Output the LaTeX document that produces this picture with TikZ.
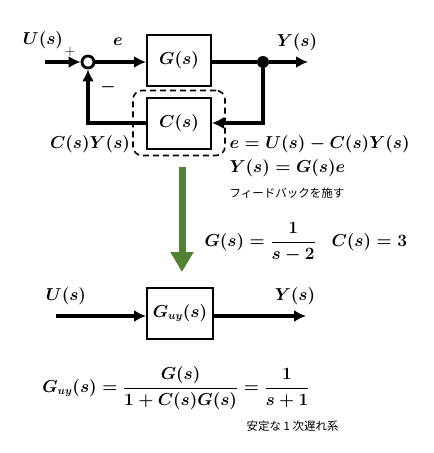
\documentclass[tikz,border=0pt]{standalone}
\usepackage{amsmath, amssymb}
\usepackage{bm}
\usepackage{fontspec}
\newfontfamily\jpfont{Noto Sans CJK JP}
\usetikzlibrary{arrows.meta, positioning, fit}
\definecolor{mygreen}{HTML}{548235}
\tikzset{
  >=latex,
  % Blocchi
  block/.style={draw, line width=2pt, minimum width=64, minimum height=51, inner sep=0},
  sum node/.style={circle, draw, line width=2.8pt, minimum size=12, inner sep=0},
  branch/.style={circle, fill, minimum size=12, inner sep=0},
  dash box/.style={draw, line width=1.6pt, rounded corners=9, dash pattern=on 6pt off 4pt},
  % Connessioni
  connect/.style={line width=3.5pt},
  connect arrow/.style={-{Latex[length=12,width=12]}, line width=3.5pt},
  % Testi
  jp/.style={font=\jpfont\fontsize{11.5}{13}\selectfont}
}

\begin{document}
\begin{tikzpicture}[x=1pt, y=-1pt, font=\fontsize{16}{19}\selectfont\boldmath]
\useasboundingbox (0,0) rectangle (434,453);

% Sistema in retroazione
\node[block] (G) at (179,60) {$G(s)$};
\node[block] (C) at (179,123) {$C(s)$};
\node[sum node] (sum) at (88,62) {};
\node[branch] (br) at (263,62) {};
\coordinate (in) at (45,62);
\coordinate (out) at (308,62);
\node[dash box, fit=(C), inner xsep=13, inner ysep=6] (Cbox) {};

\draw[connect arrow] (in) -- (sum);
\draw[connect arrow] (sum) -- (G.west |- sum);
\draw[connect] (G.east |- sum) -- (br);
\draw[connect arrow] (br) -- (out);
\draw[connect arrow] (br) |- (C.east);
\draw[connect arrow] (C.west) -| (sum.south);

\node[inner sep=1] (U1) at (43,40) {$U(s)$};
\node[inner sep=0, font=\fontsize{14}{17}\selectfont] (plus) at (70,52) {$+$};
\node (minus) at (108,87) {$-$};
\node (e) at (118,42) {$e$};
\node (Y1) at (297,42) {$Y(s)$};
\node (CY) at (90,144) {$C(s)Y(s)$};
\node[anchor=west] (eq1) at (226,144) {$e = U(s) - C(s)Y(s)$};
\node[anchor=west] (eq2) at (226,168) {$Y(s) = G(s)e$};
\node[jp, anchor=west] (fb) at (226,193) {フィードバックを施す};

% Freccia verde
\coordinate (gtop) at (182,167);
\coordinate (gbot) at (182,272);
\draw[mygreen, line width=7pt, -{Triangle[length=20,width=22]}] (gtop) -- (gbot);

\node[anchor=west] (Gs) at (201,242) {$G(s) = \dfrac{1}{s-2}$};
\node[anchor=west] (Cs) at (328,242) {$C(s) = 3$};

% Sistema equivalente
\node[block, minimum width=66] (Guy) at (180,313) {$G_{uy}(s)$};
\coordinate (in2) at (56,316);
\coordinate (out2) at (306,316);
\draw[connect arrow] (in2) -- (Guy.west |- in2);
\draw[connect arrow] (Guy.east |- in2) -- (out2);
\node (U2) at (66,296) {$U(s)$};
\node (Y2) at (295,296) {$Y(s)$};

\node (Gform) at (176,388) {$G_{uy}(s) = \dfrac{G(s)}{1 + C(s)G(s)} = \dfrac{1}{s+1}$};
\node[jp, anchor=west] (stab) at (243,426) {安定な 1 次遅れ系};

\end{tikzpicture}
\end{document}
